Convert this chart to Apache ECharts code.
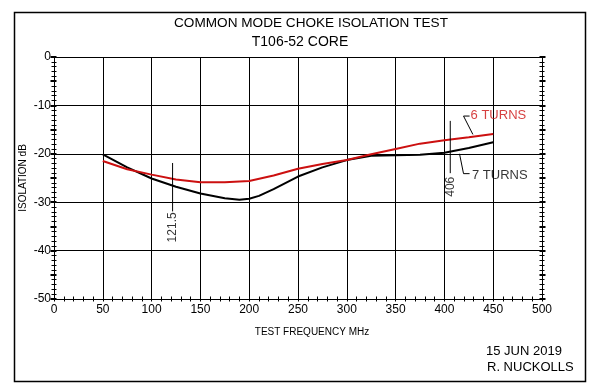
<!DOCTYPE html>
<html><head><meta charset="utf-8">
<script src="https://cdn.jsdelivr.net/npm/echarts@6/dist/echarts.min.js"></script>
<style>html,body{margin:0;padding:0;background:#fff}#c{width:593px;height:392px}</style>
</head><body><div id="c"></div>
<script>
// ---- data ----
const titleLine1 = 'COMMON MODE CHOKE ISOLATION TEST';
const titleLine2 = 'T106-52 CORE';
const xName = 'TEST FREQUENCY MHz';
const yName = 'ISOLATION dB';
const footer = ['15 JUN 2019', 'R. NUCKOLLS'];
const xRange = [0, 500, 50];
const yRange = [-50, 0, 10];

const sixFreq = [50, 75, 100, 125, 150, 175, 200, 225, 250, 275, 300, 325, 350, 375, 400, 425, 450];
const sixDb   = [-21.5, -23.2, -24.3, -25.3, -25.9, -25.9, -25.6, -24.5, -23.1, -22.1, -21.3, -20.1, -19.0, -17.9, -17.2, -16.6, -15.9];
const sevenFreq = [50, 75, 100, 125, 150, 175, 190, 200, 210, 225, 250, 275, 300, 325, 350, 375, 400, 425, 450];
const sevenDb   = [-20.1, -22.8, -25.1, -26.8, -28.2, -29.2, -29.5, -29.3, -28.7, -27.3, -24.7, -22.8, -21.3, -20.4, -20.3, -20.2, -19.8, -18.8, -17.6];

// annotations (data coordinates)
const markerA = { text: '121.5', line: [[121.5, -21.9], [121.5, -31.9]], textAt: [121.5, -35.2] };
const markerB = { text: '406', line: [[406, -13.2], [406, -24.0]], textAt: [406, -26.8] };
const leaderSix = { text: '6 TURNS', line: [[429.2, -16.0], [419.6, -12.2], [425.8, -12.2]], textAt: [426.3, -12.1] };
const leaderSeven = { text: '7 TURNS', line: [[415.5, -20.0], [419.6, -24.1], [425.8, -24.1]], textAt: [427.8, -24.4] };

const FONT = '"Liberation Sans", Arial, sans-serif';
const RED = '#cc1010';

const zip = (a, b) => a.map((v, i) => [v, b[i]]);
const G = { left: 54, right: 51, top: 57, bottom: 93, outerBoundsMode: 'none', containLabel: false };

const hidden = (gi, pos) => ({ type: 'value', gridIndex: gi, position: pos, min: 1, max: 2, show: false,
  axisLine: { show: false, onZero: false }, axisTick: { show: false }, axisLabel: { show: false }, splitLine: { show: false } });

function tickX(gi) {
  return { type: 'value', gridIndex: gi, position: 'bottom', offset: -2.5, min: xRange[0], max: xRange[1], interval: xRange[2],
    axisLine: { show: false, onZero: false }, axisLabel: { show: false }, splitLine: { show: false },
    axisTick: { show: true, length: 5, lineStyle: { color: '#000', width: 1 } },
    minorTick: { show: true, splitNumber: 5, length: 5, lineStyle: { color: '#000', width: 1 } } };
}
function tickY(gi, pos) {
  return { type: 'value', gridIndex: gi, position: pos, offset: -2.5, min: yRange[0], max: yRange[1], interval: 5,
    axisLine: { show: false, onZero: false }, axisLabel: { show: false }, splitLine: { show: false },
    axisTick: { show: true, length: 6, lineStyle: { color: '#000', width: 2 } },
    minorTick: { show: true, splitNumber: 5, length: 5, lineStyle: { color: '#000', width: 1 } } };
}
function lineSeries(data, color, width) {
  return { type: 'line', data, xAxisIndex: 0, yAxisIndex: 0, showSymbol: false, symbol: 'none', silent: true,
    lineStyle: { color, width }, itemStyle: { color }, animation: false };
}
function textSeries(at, text, opts) {
  return { type: 'scatter', xAxisIndex: 0, yAxisIndex: 0, symbolSize: 1, silent: true, animation: false,
    itemStyle: { color: 'rgba(0,0,0,0)' },
    data: [{ value: at, label: Object.assign({ show: true, formatter: text, fontFamily: FONT, fontSize: 13, color: '#000' }, opts) }] };
}

const chart = echarts.init(document.getElementById('c'), null, { renderer: 'canvas' });
chart.setOption({
  animation: false,
  backgroundColor: '#fff',
  title: [
    { text: titleLine1, left: 306, top: 11, textAlign: 'center', textStyle: { fontFamily: FONT, fontSize: 13.6, fontWeight: 'normal', color: '#000' } },
    { text: titleLine2, left: 295, top: 30, textAlign: 'center', textStyle: { fontFamily: FONT, fontSize: 14, fontWeight: 'normal', color: '#000' } }
  ],
  grid: [Object.assign({}, G), Object.assign({}, G), Object.assign({}, G)],
  xAxis: [
    { type: 'value', gridIndex: 0, position: 'bottom', min: xRange[0], max: xRange[1], interval: xRange[2],
      name: xName, nameLocation: 'middle', nameGap: 28, nameMoveOverlap: false,
      nameTextStyle: { fontFamily: FONT, fontSize: 10, color: '#000', padding: [0, 0, 0, 28] },
      axisLine: { show: true, onZero: false, lineStyle: { color: '#000', width: 1 } },
      axisTick: { show: false }, minorTick: { show: false },
      axisLabel: { fontFamily: FONT, fontSize: 12, color: '#000', margin: 5 },
      splitLine: { show: true, lineStyle: { color: '#000', width: 1 } } },
    tickX(1),
    hidden(2, 'bottom')
  ],
  yAxis: [
    { type: 'value', gridIndex: 0, position: 'left', min: yRange[0], max: yRange[1], interval: yRange[2],
      name: yName, nameLocation: 'middle', nameGap: 26, nameRotate: 90, nameMoveOverlap: false,
      nameTextStyle: { fontFamily: FONT, fontSize: 10, color: '#000' },
      axisLine: { show: true, onZero: false, lineStyle: { color: '#000', width: 1 } },
      axisTick: { show: false }, minorTick: { show: false },
      axisLabel: { fontFamily: FONT, fontSize: 12, color: '#000', margin: 3 },
      splitLine: { show: true, lineStyle: { color: '#000', width: 1 } } },
    hidden(1, 'left'),
    tickY(2, 'left'), tickY(2, 'right')
  ],
  graphic: [
    { type: 'rect', left: 12, top: 10, shape: { width: 571, height: 369 }, style: { fill: 'none', stroke: '#000', lineWidth: 1.5 }, silent: true, z: 100 },
    { type: 'text', left: 486, top: 345, style: { text: footer[0], font: '13px ' + FONT, fill: '#000' } },
    { type: 'text', left: 487, top: 361, style: { text: footer[1], font: '13px ' + FONT, fill: '#000' } }
  ],
  series: [
    lineSeries(zip(sevenFreq, sevenDb), '#000', 2),
    lineSeries(zip(sixFreq, sixDb), RED, 2),
    lineSeries(markerA.line, '#000', 1),
    lineSeries(markerB.line, '#000', 1),
    lineSeries(leaderSix.line, '#000', 1),
    lineSeries(leaderSeven.line, '#000', 1),
    textSeries(markerA.textAt, markerA.text, { position: 'inside', rotate: 90, fontSize: 12 }),
    textSeries(markerB.textAt, markerB.text, { position: 'inside', rotate: 90, fontSize: 12 }),
    textSeries(leaderSix.textAt, leaderSix.text, { position: 'right', distance: 0, color: RED }),
    textSeries(leaderSeven.textAt, leaderSeven.text, { position: 'right', distance: 0 })
  ]
});
</script></body></html>
